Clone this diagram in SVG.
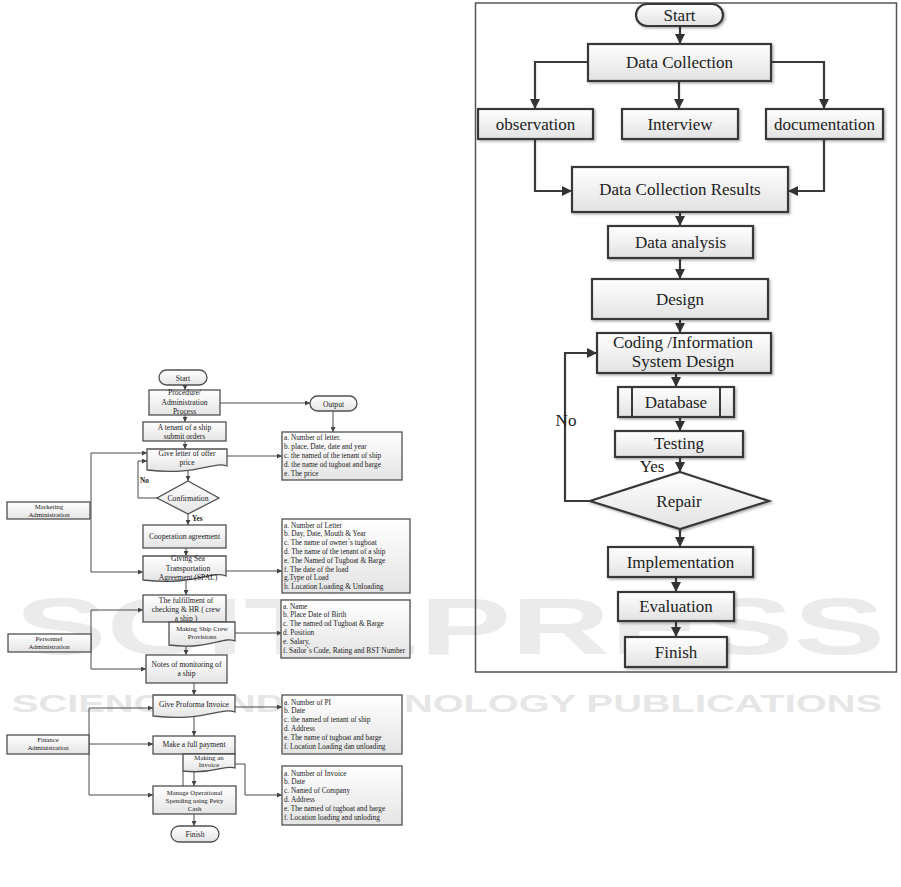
<svg xmlns="http://www.w3.org/2000/svg" width="901" height="887" viewBox="0 0 901 887">
<defs>
  <linearGradient id="gl" x1="0" y1="0" x2="0" y2="1">
    <stop offset="0" stop-color="#ffffff"/>
    <stop offset="1" stop-color="#e4e4e4"/>
  </linearGradient>
  <linearGradient id="gr" x1="0" y1="0" x2="0" y2="1">
    <stop offset="0" stop-color="#ffffff"/>
    <stop offset="1" stop-color="#e2e2e2"/>
  </linearGradient>
  <filter id="sh" x="-10%" y="-10%" width="130%" height="140%">
    <feDropShadow dx="1.5" dy="1.5" stdDeviation="1" flood-color="#000" flood-opacity="0.3"/>
  </filter>
  <marker id="al" viewBox="0 0 10 10" refX="10" refY="5" markerWidth="5" markerHeight="5" markerUnits="userSpaceOnUse" orient="auto">
    <path d="M0,0 L10,5 L0,10 z" fill="#444"/>
  </marker>
  <marker id="ar" viewBox="0 0 10 10" refX="10" refY="5" markerWidth="10" markerHeight="10" markerUnits="userSpaceOnUse" orient="auto">
    <path d="M0,0 L10,5 L0,10 z" fill="#333"/>
  </marker>
</defs>
<style>
  .wm { font-family: "Liberation Sans", Arial, sans-serif; font-weight: bold; fill: #ebebeb; }
  .lc { fill: none; stroke: #4a4a4a; stroke-width: 1; marker-end: url(#al); }
  .lcn { fill: none; stroke: #4a4a4a; stroke-width: 1; }
  .lb { fill: url(#gl); stroke: #505050; stroke-width: 1.3; }
  .lt { font-family: "Liberation Serif", "Times New Roman", serif; font-size: 7.6px; fill: #222; text-anchor: middle; }
  .ls { font-family: "Liberation Serif", "Times New Roman", serif; font-size: 6.8px; fill: #222; text-anchor: middle; }
  .ll { font-family: "Liberation Serif", "Times New Roman", serif; font-size: 7.3px; fill: #222; }
  .rc { fill: none; stroke: #3a3a3a; stroke-width: 2.2; marker-end: url(#ar); }
  .rb { fill: url(#gr); stroke: #383838; stroke-width: 2.2; filter: url(#sh); }
  .rt { font-family: "Liberation Serif", "Times New Roman", serif; font-size: 17px; fill: #222; text-anchor: middle; }
</style>

<!-- watermark -->
<g id="watermark">
  <text class="wm" x="15" y="654" font-size="80" textLength="870" lengthAdjust="spacingAndGlyphs">SCITEPRESS</text>
  <text class="wm" x="12" y="712" font-size="24" textLength="870" lengthAdjust="spacingAndGlyphs" style="fill:#e6e6e6">SCIENCE AND TECHNOLOGY PUBLICATIONS</text>
</g>

<!-- LEFT DIAGRAM connectors -->
<g id="left-connectors">
  <path class="lc" d="M185,385 V390"/>
  <path class="lc" d="M185,415 V422"/>
  <path class="lc" d="M185,441 V449"/>
  <path class="lc" d="M188,470 V481"/>
  <path class="lc" d="M188,514 V525"/>
  <path class="lc" d="M186,548 V556"/>
  <path class="lc" d="M186,580 V595"/>
  <path class="lc" d="M186,622 V655"/>
  <path class="lc" d="M194,683 V695"/>
  <path class="lc" d="M194,717 V736"/>
  <path class="lc" d="M194,754 V786"/>
  <path class="lcn" d="M183,771 V786"/>
  <path class="lc" d="M194,814 V826"/>
  <path class="lc" d="M157,498 H138 V461 H147"/>
  <path class="lc" d="M220,403 H310"/>
  <path class="lc" d="M333,411 V432"/>
  <path class="lc" d="M227,456 H282"/>
  <path class="lc" d="M226,571 H282"/>
  <path class="lc" d="M235,633 H282"/>
  <path class="lc" d="M235,707 H282"/>
  <path class="lc" d="M235,764 H245 V795 H282"/>
  <path class="lc" d="M91,510 V453 H147"/>
  <path class="lc" d="M91,510 V572 H143"/>
  <path class="lc" d="M91,643 V610 H143"/>
  <path class="lc" d="M91,643 V669 H146"/>
  <path class="lc" d="M89,744 V708 H153"/>
  <path class="lc" d="M89,744 H153"/>
  <path class="lc" d="M89,744 V795 H153"/>
</g>

<!-- LEFT DIAGRAM nodes -->
<g id="l-start"><rect class="lb" x="159" y="370" width="48" height="15" rx="7.5"/><text class="lt" x="183" y="380.5">Start</text></g>
<g id="l-procedure"><rect class="lb" x="149" y="390" width="71" height="25"/><text class="lt" x="184.5" y="395">Procedure/</text><text class="lt" x="184.5" y="404.5">Administration</text><text class="lt" x="184.5" y="414">Process</text></g>
<g id="l-tenant"><rect class="lb" x="143" y="422" width="83" height="19"/><text class="lt" x="184.5" y="430">A tenant of a ship</text><text class="lt" x="184.5" y="439">submit orders</text></g>
<g id="l-offer"><path class="lb" d="M147,449 H227 V466 C213,461 197,476 147,470 Z"/><text class="lt" x="187" y="456">Give letter of offer</text><text class="lt" x="187" y="465">price</text></g>
<g id="l-confirm"><path class="lb" d="M188,481 L219,498 L188,514 L157,498 Z"/><text class="lt" x="188" y="501">Confirmation</text></g>
<text class="ll" x="140" y="483" style="font-weight:bold">No</text>
<text class="ll" x="192" y="521" style="font-weight:bold">Yes</text>
<g id="l-coop"><rect class="lb" x="143" y="525" width="83" height="23"/><text class="lt" x="184.5" y="539">Cooperation agreement</text></g>
<g id="l-spal"><path class="lb" d="M143,556 H226 V576 C211,570 195,586 143,580 Z"/><text class="lt" x="188" y="560.5">Giving Sea</text><text class="lt" x="188" y="570.5">Transportation</text><text class="lt" x="188" y="580">Agreement (SPAL)</text></g>
<g id="l-fulfil"><rect class="lb" x="143" y="595" width="83" height="27"/><text class="lt" x="186" y="602.5">The fulfillment of</text><text class="lt" x="186" y="611.5">checking &amp; HR ( crew</text><text class="lt" x="186" y="620.5">a ship )</text></g>
<g id="l-provisions"><path class="lb" d="M169,622 H235 V641 C223,636 210,650 169,645 Z"/><text class="ls" x="202" y="630.5">Making Ship Crew</text><text class="ls" x="202" y="638.5">Provisions</text></g>
<g id="l-notes"><rect class="lb" x="146" y="655" width="81" height="28"/><text class="lt" x="186.5" y="667">Notes of monitoring of</text><text class="lt" x="186.5" y="676">a ship</text></g>
<g id="l-proforma"><path class="lb" d="M153,695 H235 V712 C220,707 204,722 153,716 Z"/><text class="lt" x="194" y="707">Give Proforma Invoice</text></g>
<g id="l-payment"><rect class="lb" x="153" y="736" width="82" height="18"/><text class="lt" x="194" y="747">Make a full payment</text></g>
<g id="l-invoice"><path class="lb" d="M183,754 H235 V768 C225,764 215,775 183,771 Z"/><text class="ls" x="209" y="759.5">Making an</text><text class="ls" x="209" y="767.3">Invoice</text></g>
<g id="l-manage"><rect class="lb" x="153" y="786" width="83" height="28"/><text class="ls" x="194.5" y="795">Manage Operational</text><text class="ls" x="194.5" y="802.9">Spending using Petty</text><text class="ls" x="194.5" y="810.8">Cash</text></g>
<g id="l-finish"><rect class="lb" x="171" y="826" width="48" height="16" rx="8"/><text class="lt" x="195" y="837">Finish</text></g>
<g id="l-marketing"><rect class="lb" x="7" y="502" width="83" height="17"/><text class="ls" x="49" y="509">Marketing</text><text class="ls" x="49" y="516.8">Administration</text></g>
<g id="l-personnel"><rect class="lb" x="8" y="634" width="83" height="18"/><text class="ls" x="49" y="641.3">Personnel</text><text class="ls" x="49" y="649.1">Administration</text></g>
<g id="l-finance"><rect class="lb" x="7" y="735" width="82" height="19"/><text class="ls" x="48" y="742.3">Finance</text><text class="ls" x="48" y="750.1">Administration</text></g>
<g id="l-output"><rect class="lb" x="310" y="396" width="47" height="15" rx="7.5"/><text class="lt" x="333.5" y="406.5">Output</text></g>
<g id="l-out1"><rect class="lb" x="282" y="432" width="120" height="48"/>
  <text class="ll" x="284" y="440">a. Number of letter.</text>
  <text class="ll" x="284" y="449">b. place, Date, date and year</text>
  <text class="ll" x="284" y="458">c. the named of the tenant of ship</text>
  <text class="ll" x="284" y="467">d. the name od tugboat and barge</text>
  <text class="ll" x="284" y="476">e. The price</text>
</g>
<g id="l-out2"><rect class="lb" x="282" y="519" width="128" height="74"/>
  <text class="ll" x="284" y="527.5">a. Number of Letter</text>
  <text class="ll" x="284" y="536.3">b. Day, Date, Mouth &amp; Year</text>
  <text class="ll" x="284" y="545.1">c. The name of owner`s tugboat</text>
  <text class="ll" x="284" y="553.9">d. The name of the tenant of a ship</text>
  <text class="ll" x="284" y="562.7">e. The Named of Tugboat &amp; Barge</text>
  <text class="ll" x="284" y="571.5">f. The date of the load</text>
  <text class="ll" x="284" y="580.3">g.Type of Load</text>
  <text class="ll" x="284" y="589.1">h. Location Loading &amp; Unloading</text>
</g>
<g id="l-out3"><rect class="lb" x="281" y="600" width="129" height="58"/>
  <text class="ll" x="283" y="608.5">a. Name</text>
  <text class="ll" x="283" y="617.4">b. Place Date of Birth</text>
  <text class="ll" x="283" y="626.3">c. The named od Tugboat &amp; Barge</text>
  <text class="ll" x="283" y="635.2">d. Position</text>
  <text class="ll" x="283" y="644.1">e. Salary,</text>
  <text class="ll" x="283" y="653">f. Sailor`s Code, Rating and BST Number</text>
</g>
<g id="l-out4"><rect class="lb" x="282" y="695" width="120" height="59"/>
  <text class="ll" x="284" y="704.5">a. Number of PI</text>
  <text class="ll" x="284" y="713.3">b. Date</text>
  <text class="ll" x="284" y="722.1">c. the named of tenant of ship</text>
  <text class="ll" x="284" y="730.9">d. Address</text>
  <text class="ll" x="284" y="739.7">e. The name of tugboat and barge</text>
  <text class="ll" x="284" y="748.5">f. Location Loading dan unloading</text>
</g>
<g id="l-out5"><rect class="lb" x="282" y="766" width="120" height="59"/>
  <text class="ll" x="284" y="775.5">a. Number of Invoice</text>
  <text class="ll" x="284" y="784.3">b. Date</text>
  <text class="ll" x="284" y="793.1">c. Named of Company</text>
  <text class="ll" x="284" y="801.9">d. Address</text>
  <text class="ll" x="284" y="810.7">e. The named of tugboat and barge</text>
  <text class="ll" x="284" y="819.5">f. Location loading and unloding</text>
</g>

<!-- RIGHT DIAGRAM frame -->
<rect x="475.5" y="3" width="421" height="669" fill="none" stroke="#555" stroke-width="1.5"/>

<g id="right-connectors">
  <path class="rc" d="M680,26 V44"/>
  <path class="rc" d="M588,62 H535 V109"/>
  <path class="rc" d="M679,81 V109"/>
  <path class="rc" d="M771,62 H824 V109"/>
  <path class="rc" d="M535,139 V191 H572"/>
  <path class="rc" d="M824,139 V191 H788"/>
  <path class="rc" d="M680,212 V226"/>
  <path class="rc" d="M680,258 V279"/>
  <path class="rc" d="M680,319 V333"/>
  <path class="rc" d="M676,373 V387"/>
  <path class="rc" d="M680,417 V431"/>
  <path class="rc" d="M680,457 V472"/>
  <path class="rc" d="M590,501 H565 V353 H597"/>
  <path class="rc" d="M680,529 V547"/>
  <path class="rc" d="M676,577 V592"/>
  <path class="rc" d="M676,621 V637"/>
</g>

<g id="r-start"><rect class="rb" x="636" y="4" width="87" height="22" rx="11"/><text class="rt" x="679.5" y="21">Start</text></g>
<g id="r-datacollection"><rect class="rb" x="588" y="44" width="183" height="37"/><text class="rt" x="679.5" y="68">Data Collection</text></g>
<g id="r-observation"><rect class="rb" x="478" y="109" width="115" height="30"/><text class="rt" x="535.5" y="130">observation</text></g>
<g id="r-interview"><rect class="rb" x="622" y="109" width="116" height="30"/><text class="rt" x="680" y="130">Interview</text></g>
<g id="r-documentation"><rect class="rb" x="766" y="109" width="117" height="30"/><text class="rt" x="824.5" y="130">documentation</text></g>
<g id="r-results"><rect class="rb" x="572" y="167" width="216" height="45"/><text class="rt" x="680" y="195">Data Collection Results</text></g>
<g id="r-analysis"><rect class="rb" x="608" y="226" width="145" height="32"/><text class="rt" x="680.5" y="248">Data analysis</text></g>
<g id="r-design"><rect class="rb" x="592" y="279" width="176" height="40"/><text class="rt" x="680" y="305">Design</text></g>
<g id="r-coding"><rect class="rb" x="597" y="333" width="174" height="40"/><text class="rt" x="683" y="348">Coding /Information</text><text class="rt" x="683" y="367">System Design</text></g>
<g id="r-database"><rect class="rb" x="618" y="387" width="116" height="30"/><line x1="632" y1="387" x2="632" y2="417" stroke="#383838" stroke-width="2"/><line x1="720" y1="387" x2="720" y2="417" stroke="#383838" stroke-width="2"/><text class="rt" x="676" y="408">Database</text></g>
<g id="r-testing"><rect class="rb" x="615" y="431" width="128" height="26"/><text class="rt" x="679" y="449">Testing</text></g>
<g id="r-repair"><path class="rb" d="M680,472 L769,501 L680,529 L590,501 Z"/><text class="rt" x="679" y="507">Repair</text></g>
<text class="rt" x="652" y="472">Yes</text>
<text class="rt" x="566" y="426">No</text>
<g id="r-implementation"><rect class="rb" x="608" y="547" width="145" height="30"/><text class="rt" x="680.5" y="568">Implementation</text></g>
<g id="r-evaluation"><rect class="rb" x="618" y="592" width="116" height="29"/><text class="rt" x="676" y="612">Evaluation</text></g>
<g id="r-finish"><rect class="rb" x="625" y="637" width="102" height="30"/><text class="rt" x="676" y="658">Finish</text></g>
</svg>
